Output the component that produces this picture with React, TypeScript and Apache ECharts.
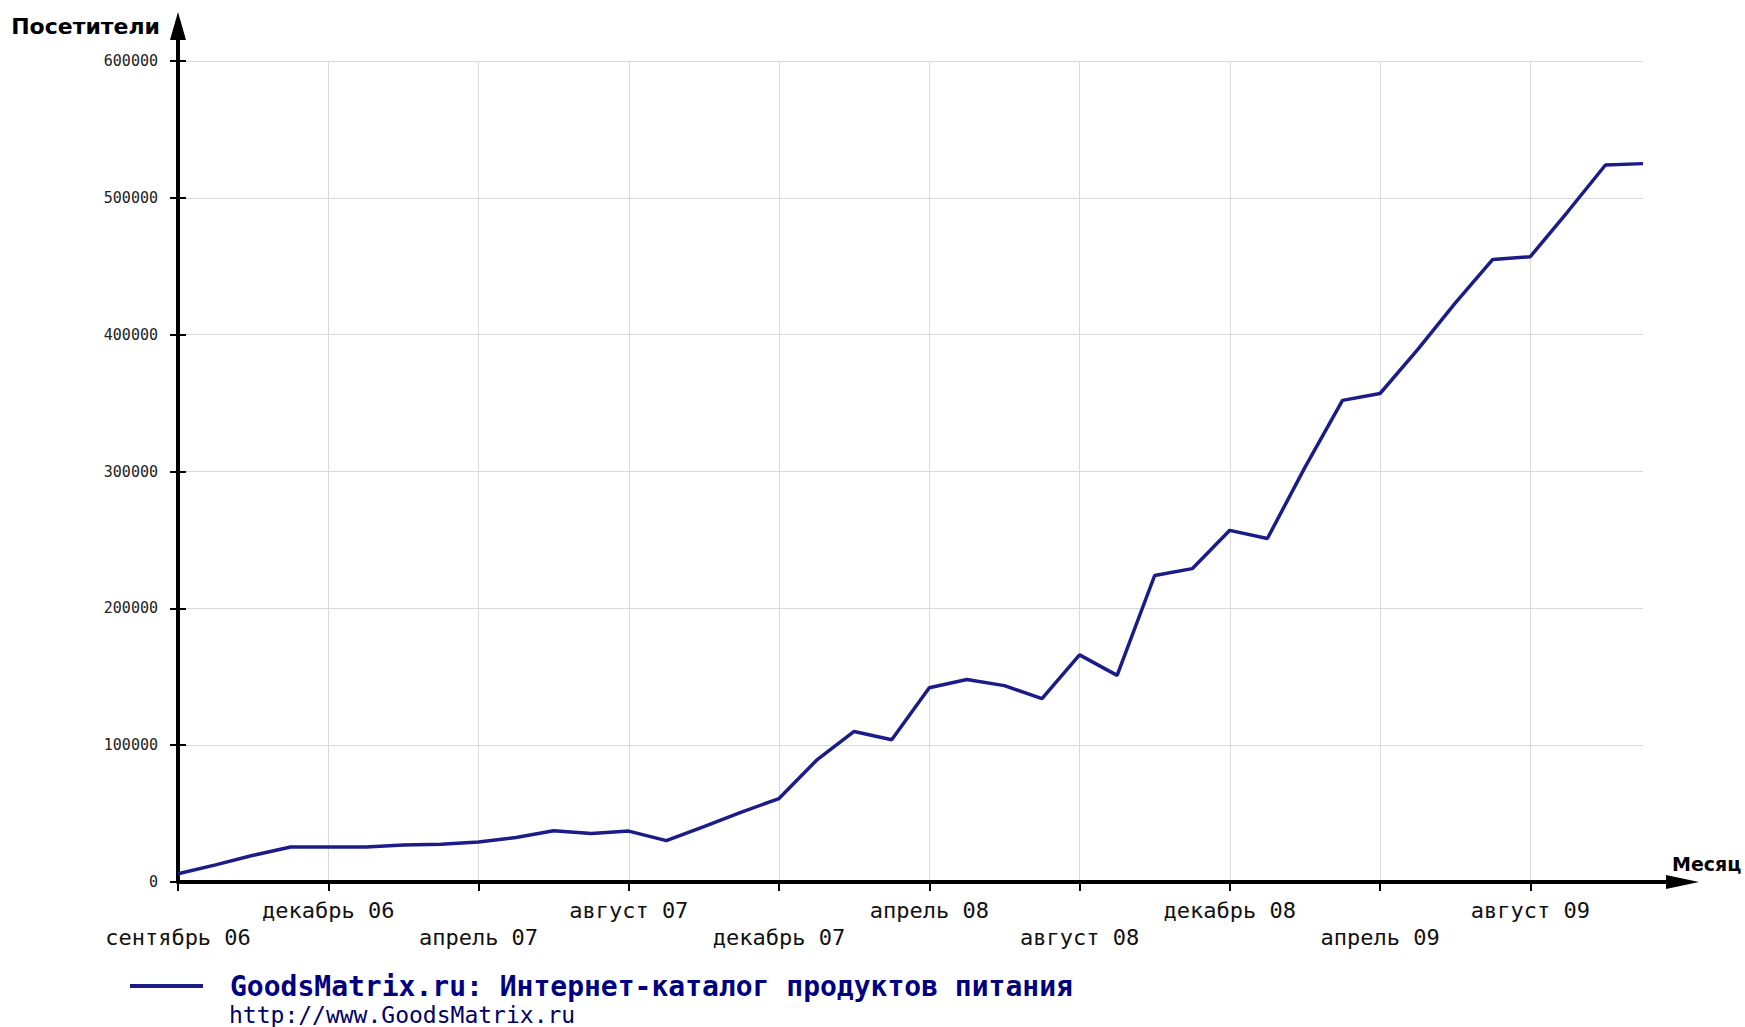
import React, { useEffect, useRef } from "react";
import * as echarts from "echarts";

// Month of each data point (one point per month)
const months = [
  "август 06", "сентябрь 06", "октябрь 06", "ноябрь 06", "декабрь 06",
  "январь 07", "февраль 07", "март 07", "апрель 07", "май 07", "июнь 07", "июль 07",
  "август 07", "сентябрь 07", "октябрь 07", "ноябрь 07", "декабрь 07",
  "январь 08", "февраль 08", "март 08", "апрель 08", "май 08", "июнь 08", "июль 08",
  "август 08", "сентябрь 08", "октябрь 08", "ноябрь 08", "декабрь 08",
  "январь 09", "февраль 09", "март 09", "апрель 09", "май 09", "июнь 09", "июль 09",
  "август 09", "сентябрь 09", "октябрь 09", "ноябрь 09",
];

// Visitors per month
const visitors = [
  6000, 12500, 19500, 25600, 25600, 25600, 27000, 27500, 29200, 32500,
  37500, 35500, 37200, 30200, 40500, 51000, 61000, 89000, 110000, 104000,
  142000, 148000, 143500, 134000, 166000, 151000, 224000, 229000, 257000, 251000,
  303000, 352000, 357000, 389000, 423000, 455000, 457000, 490000, 524000, 525000,
];

// Tick labels shown under every 4th point
const tickLabels = [
  "сентябрь 06", "декабрь 06", "апрель 07", "август 07", "декабрь 07",
  "апрель 08", "август 08", "декабрь 08", "апрель 09", "август 09",
];

const yMin = 0;
const yMax = 600000;
const yStep = 100000;

const seriesName = "GoodsMatrix.ru: Интернет-каталог продуктов питания";
const siteUrl = "http://www.GoodsMatrix.ru";
const yTitle = "Посетители";
const xTitle = "Месяц";

const LINE_COLOR = "#1c1c88";
const TEXT_NAVY = "#000080";

const G_LEFT = 178;
const G_TOP = 61;
const G_RIGHT = 1643;
const G_BOTTOM = 882;

export default function App() {
  const ref = useRef<HTMLDivElement>(null);

  useEffect(() => {
    if (!ref.current) return;
    const chart = echarts.init(ref.current, undefined, { renderer: "svg" });
    const option: any = {
      animation: false,
      backgroundColor: "#ffffff",
      grid: {
        left: G_LEFT,
        top: G_TOP,
        width: G_RIGHT - G_LEFT,
        height: G_BOTTOM - G_TOP,
        containLabel: false,
      },
      title: {
        text: siteUrl,
        left: 229,
        top: 1004,
        padding: 0,
        textStyle: {
          fontFamily: "DejaVu Sans Mono",
          fontSize: 23,
          lineHeight: 22,
          fontWeight: "normal",
          color: "#000066",
        },
      },
      legend: {
        data: [seriesName],
        left: 130,
        top: 972,
        padding: 0,
        icon: "rect",
        itemWidth: 73,
        itemHeight: 4,
        textStyle: {
          fontFamily: "DejaVu Sans Mono",
          fontSize: 28,
          fontWeight: "bold",
          color: TEXT_NAVY,
          padding: [0, 0, 0, 22],
        },
      },
      xAxis: {
        type: "category",
        data: months,
        boundaryGap: false,
        name: xTitle,
        nameLocation: "end",
        nameGap: 29,
        nameTextStyle: {
          fontFamily: "DejaVu Sans",
          fontWeight: "bold",
          fontSize: 19,
          color: "#000",
          align: "left",
          verticalAlign: "bottom",
          lineHeight: 36,
        },
        axisLine: { show: true, lineStyle: { color: "#000", width: 4 } },
        axisTick: { show: true, interval: 3, length: 9, lineStyle: { color: "#000", width: 2 } },
        splitLine: { show: true, interval: 3, lineStyle: { color: "#d9d9d9", width: 1 } },
        axisLabel: {
          interval: 3,
          margin: 15,
          fontFamily: "DejaVu Sans Mono",
          fontSize: 22,
          lineHeight: 27,
          color: "#111",
          formatter: (_v: string, i: number) => {
            const k = Math.round(i / 4);
            const t = tickLabels[k] ?? "";
            return k % 2 === 0 ? "\n" + t : t;
          },
        },
      },
      yAxis: [
        {
          type: "value",
          min: yMin,
          max: yMax,
          interval: yStep,
          position: "left",
          name: yTitle,
          nameLocation: "end",
          nameGap: 35,
          nameTextStyle: {
            fontFamily: "DejaVu Sans",
            fontWeight: "bold",
            fontSize: 22,
            color: "#000",
            align: "right",
            verticalAlign: "middle",
            padding: [0, 18, 0, 0],
          },
          axisLine: { show: true, lineStyle: { color: "#000", width: 4 } },
          axisTick: { show: true, length: 8, lineStyle: { color: "#000", width: 2 } },
          axisLabel: {
            margin: 20,
            fontFamily: "DejaVu Sans Mono",
            fontSize: 15,
            color: "#222",
            formatter: (v: number) => String(v),
          },
          splitLine: { show: true, lineStyle: { color: "#d9d9d9", width: 1 } },
        },
        {
          type: "value",
          min: yMin,
          max: yMax,
          interval: yStep,
          position: "left",
          offset: 0,
          axisLine: { show: false },
          axisTick: { show: true, inside: true, length: 8, lineStyle: { color: "#000", width: 2 } },
          axisLabel: { show: false },
          splitLine: { show: false },
        },
      ],
      graphic: [
        {
          type: "line",
          shape: { x1: G_LEFT, y1: G_TOP, x2: G_LEFT, y2: 36 },
          style: { stroke: "#000", lineWidth: 4 },
        },
        {
          type: "polygon",
          shape: { points: [[G_LEFT, 12], [G_LEFT + 8, 40], [G_LEFT - 8, 40]] },
          style: { fill: "#000" },
        },
        {
          type: "line",
          shape: { x1: G_RIGHT, y1: G_BOTTOM, x2: 1670, y2: G_BOTTOM },
          style: { stroke: "#000", lineWidth: 4 },
        },
        {
          type: "polygon",
          shape: { points: [[1699, G_BOTTOM], [1666, G_BOTTOM - 7], [1666, G_BOTTOM + 7]] },
          style: { fill: "#000" },
        },
      ],
      series: [
        {
          type: "line",
          name: seriesName,
          data: visitors,
          yAxisIndex: 0,
          showSymbol: false,
          symbol: "none",
          smooth: false,
          lineStyle: { color: LINE_COLOR, width: 3.5 },
          itemStyle: { color: LINE_COLOR },
          z: 3,
        },
      ],
    };
    chart.setOption(option);
    return () => chart.dispose();
  }, []);

  return (
    <div
      ref={ref}
      style={{ position: "absolute", left: 0, top: 0, width: 1745, height: 1027 }}
    />
  );
}
